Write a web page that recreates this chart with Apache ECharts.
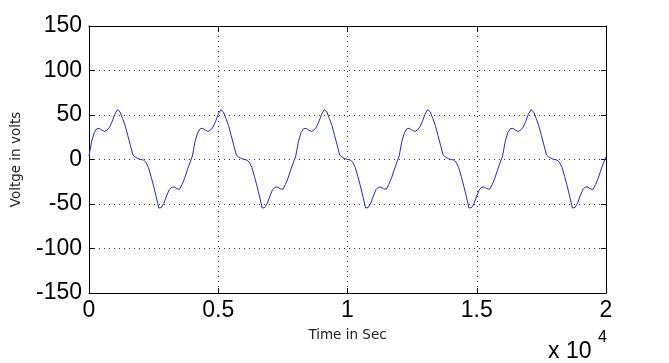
<!DOCTYPE html>
<html>
<head>
<meta charset="utf-8">
<script src="https://cdn.jsdelivr.net/npm/echarts@6/dist/echarts.min.js"></script>
<style>html,body{margin:0;padding:0;background:#fff;}#c{width:669px;height:363px;}</style>
</head>
<body>
<div id="c"></div>
<script>
// Sample spacing along the time axis (seconds)
var timeStep = 100;
// Voltage readings, one list per cycle (t = 0 .. 19900 in steps of 100), plus end point
var cycle1 = [4, 20, 30, 34.5, 35, 33, 31.5, 33, 36.5, 43, 51, 56, 53.5, 46, 38, 27, 16, 5, 2.5, 1, 0, -0.5, -3, -9, -19, -30, -42, -54.5, -54, -49, -41, -34, -31, -31, -33, -33.5, -28, -21, -12, -4];
var cycle2 = [4, 20, 30, 34.5, 35, 33, 31.5, 33, 36.5, 43, 51, 56, 53.5, 46, 38, 27, 16, 5, 2.5, 1, 0, -0.5, -3, -9, -19, -30, -42, -54.5, -54, -49, -41, -34, -31, -31, -33, -33.5, -28, -21, -12, -4];
var cycle3 = [4, 20, 30, 34.5, 35, 33, 31.5, 33, 36.5, 43, 51, 56, 53.5, 46, 38, 27, 16, 5, 2.5, 1, 0, -0.5, -3, -9, -19, -30, -42, -54.5, -54, -49, -41, -34, -31, -31, -33, -33.5, -28, -21, -12, -4];
var cycle4 = [4, 20, 30, 34.5, 35, 33, 31.5, 33, 36.5, 43, 51, 56, 53.5, 46, 38, 27, 16, 5, 2.5, 1, 0, -0.5, -3, -9, -19, -30, -42, -54.5, -54, -49, -41, -34, -31, -31, -33, -33.5, -28, -21, -12, -4];
var cycle5 = [4, 20, 30, 34.5, 35, 33, 31.5, 33, 36.5, 43, 51, 56, 53.5, 46, 38, 27, 16, 5, 2.5, 1, 0, -0.5, -3, -9, -19, -30, -42, -54.5, -54, -49, -41, -34, -31, -31, -33, -33.5, -28, -21, -12, -4];
var endValue = [3];
var xTickLabels = ['0', '0.5', '1', '1.5', '2'];
var yTicks = [-150, -100, -50, 0, 50, 100, 150];

var voltage = [].concat(cycle1, cycle2, cycle3, cycle4, cycle5, endValue);
var seriesData = voltage.map(function (v, i) { return [i * timeStep, v]; });

var font = 'Liberation Sans, Arial, sans-serif';
var nameFont = 'DejaVu Sans, sans-serif';
var chart = echarts.init(document.getElementById('c'), null, {renderer: 'canvas'});
var axLine = {show: true, onZero: false, lineStyle: {color: '#000', width: 1}};
var axTick = {show: true, inside: true, length: 5, lineStyle: {color: '#000'}};
var gridLine = {show: true, lineStyle: {color: '#333', type: [1, 4], width: 1}};
chart.setOption({
  backgroundColor: '#fff',
  animation: false,
  grid: {left: 89, right: 63, top: 26, bottom: 70, containLabel: false},
  xAxis: [{
    type: 'value', min: 0, max: 20000, interval: 5000, position: 'bottom',
    axisLine: axLine, axisTick: axTick,
    axisLabel: {color: '#000', fontSize: 23, fontFamily: font, margin: 6,
      formatter: function (v) { return xTickLabels[Math.round(v / 5000)]; }},
    splitLine: gridLine,
    name: 'Time in Sec', nameLocation: 'middle', nameGap: 35,
    nameTextStyle: {color: '#222', fontSize: 13.5, fontFamily: nameFont}
  }, {
    type: 'value', min: 0, max: 20000, interval: 5000, position: 'top',
    axisLine: axLine, axisTick: axTick,
    axisLabel: {show: false}, splitLine: {show: false}
  }],
  yAxis: [{
    type: 'value', min: yTicks[0], max: yTicks[yTicks.length - 1], interval: 50, position: 'left',
    axisLine: axLine, axisTick: axTick,
    axisLabel: {color: '#000', fontSize: 23, fontFamily: font, margin: 7},
    splitLine: gridLine,
    name: 'Voltge in volts', nameLocation: 'middle', nameGap: 66, nameRotate: 90,
    nameTextStyle: {color: '#222', fontSize: 13.5, fontFamily: nameFont}
  }, {
    type: 'value', min: yTicks[0], max: yTicks[yTicks.length - 1], interval: 50, position: 'right',
    axisLine: axLine, axisTick: axTick,
    axisLabel: {show: false}, splitLine: {show: false}
  }],
  graphic: [{
    type: 'text', left: 548, top: 340,
    style: {text: 'x 10', fill: '#000', fontSize: 23, fontFamily: font}
  }, {
    type: 'text', left: 598, top: 330,
    style: {text: '4', fill: '#000', fontSize: 16, fontFamily: font}
  }],
  series: [{
    type: 'line', data: seriesData, showSymbol: false, symbol: 'none',
    lineStyle: {color: '#2a2ab8', width: 1}, smooth: false
  }]
});
</script>
</body>
</html>
